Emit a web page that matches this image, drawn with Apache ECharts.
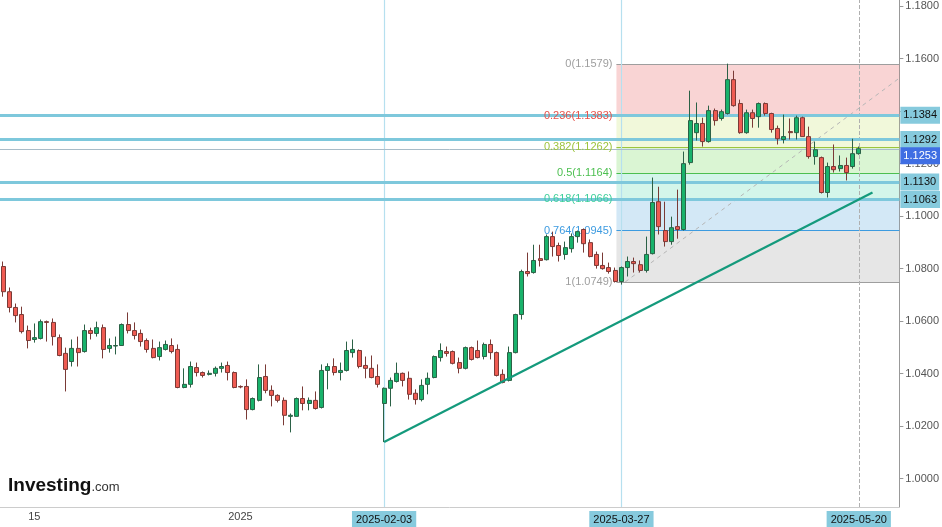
<!DOCTYPE html>
<html><head><meta charset="utf-8">
<script src="https://cdn.jsdelivr.net/npm/echarts@6/dist/echarts.min.js"></script>
<style>html,body{margin:0;padding:0;background:#fff}#c{width:942px;height:527px}</style>
</head><body><div id="c"></div>
<script>
// OHLC: [open, close, low, high]
const ohlc = [
[1.0808,1.0712,1.0693,1.0827],[1.0712,1.0652,1.0633,1.0728],[1.0652,1.0621,1.0595,1.0667],[1.0625,1.0560,1.0553,1.0655],
[1.0564,1.0526,1.0496,1.0583],[1.0530,1.0537,1.0518,1.0591],[1.0534,1.0598,1.0530,1.0606],[1.0598,1.0595,1.0522,1.0602],
[1.0595,1.0541,1.0507,1.0610],[1.0537,1.0469,1.0466,1.0549],[1.0477,1.0416,1.0332,1.0499],[1.0446,1.0496,1.0427,1.0530],
[1.0496,1.0480,1.0427,1.0541],[1.0484,1.0564,1.0480,1.0587],[1.0564,1.0553,1.0530,1.0575],[1.0553,1.0575,1.0541,1.0598],
[1.0575,1.0492,1.0458,1.0587],[1.0496,1.0507,1.0480,1.0534],[1.0505,1.0507,1.0473,1.0541],[1.0507,1.0587,1.0507,1.0591],
[1.0587,1.0564,1.0553,1.0633],[1.0564,1.0545,1.0530,1.0595],[1.0553,1.0522,1.0503,1.0568],[1.0526,1.0492,1.0480,1.0534],
[1.0496,1.0461,1.0458,1.0530],[1.0465,1.0499,1.0450,1.0522],[1.0492,1.0511,1.0488,1.0526],[1.0507,1.0484,1.0477,1.0534],
[1.0492,1.0347,1.0344,1.0511],[1.0347,1.0359,1.0344,1.0420],[1.0359,1.0427,1.0347,1.0446],[1.0423,1.0404,1.0389,1.0442],
[1.0404,1.0393,1.0385,1.0408],[1.0397,1.0401,1.0393,1.0412],[1.0401,1.0420,1.0389,1.0427],[1.0420,1.0427,1.0404,1.0442],
[1.0431,1.0404,1.0374,1.0446],[1.0404,1.0347,1.0344,1.0408],[1.0351,1.0349,1.0344,1.0355],[1.0351,1.0263,1.0225,1.0378],
[1.0263,1.0305,1.0260,1.0309],[1.0298,1.0385,1.0294,1.0435],[1.0389,1.0336,1.0325,1.0435],[1.0336,1.0317,1.0275,1.0355],
[1.0317,1.0298,1.0290,1.0321],[1.0298,1.0241,1.0203,1.0309],[1.0237,1.0241,1.0176,1.0248],[1.0237,1.0305,1.0237,1.0309],
[1.0305,1.0286,1.0260,1.0351],[1.0286,1.0298,1.0260,1.0309],[1.0298,1.0267,1.0263,1.0332],[1.0271,1.0412,1.0267,1.0435],
[1.0412,1.0427,1.0340,1.0439],[1.0427,1.0404,1.0393,1.0458],[1.0404,1.0412,1.0374,1.0442],[1.0412,1.0488,1.0408,1.0522],
[1.0480,1.0492,1.0461,1.0530],[1.0488,1.0427,1.0420,1.0492],[1.0431,1.0420,1.0382,1.0465],[1.0420,1.0385,1.0382,1.0469],
[1.0389,1.0359,1.0347,1.0435],[1.0286,1.0344,1.0139,1.0347],[1.0344,1.0374,1.0275,1.0385],[1.0370,1.0401,1.0366,1.0442],
[1.0401,1.0374,1.0351,1.0404],[1.0382,1.0321,1.0301,1.0408],[1.0325,1.0301,1.0282,1.0340],[1.0301,1.0355,1.0294,1.0378],
[1.0359,1.0382,1.0321,1.0404],[1.0385,1.0465,1.0382,1.0469],[1.0461,1.0488,1.0446,1.0515],[1.0484,1.0477,1.0465,1.0503],
[1.0484,1.0439,1.0435,1.0488],[1.0442,1.0420,1.0401,1.0461],[1.0420,1.0499,1.0416,1.0503],[1.0499,1.0454,1.0450,1.0503],
[1.0488,1.0461,1.0458,1.0526],[1.0465,1.0511,1.0454,1.0518],[1.0511,1.0480,1.0454,1.0530],[1.0480,1.0393,1.0389,1.0484],
[1.0397,1.0366,1.0363,1.0416],[1.0374,1.0480,1.0370,1.0503],[1.0480,1.0625,1.0477,1.0628],[1.0625,1.0789,1.0606,1.0796],
[1.0789,1.0781,1.0770,1.0861],[1.0785,1.0831,1.0781,1.0891],[1.0838,1.0831,1.0808,1.0891],[1.0834,1.0922,1.0831,1.0930],
[1.0922,1.0884,1.0846,1.0941],[1.0888,1.0850,1.0827,1.0899],[1.0854,1.0880,1.0834,1.0903],[1.0876,1.0922,1.0861,1.0934],
[1.0922,1.0941,1.0899,1.0945],[1.0949,1.0895,1.0861,1.0953],[1.0899,1.0846,1.0843,1.0911],[1.0854,1.0812,1.0800,1.0865],
[1.0812,1.0800,1.0796,1.0861],[1.0804,1.0789,1.0781,1.0823],[1.0793,1.0751,1.0747,1.0804],[1.0751,1.0804,1.0739,1.0808],
[1.0804,1.0827,1.0770,1.0846],[1.0827,1.0819,1.0785,1.0842],[1.0815,1.0793,1.0785,1.0831],[1.0793,1.0854,1.0785,1.0922],
[1.0857,1.1052,1.0854,1.1147],[1.1055,1.0960,1.0930,1.1112],[1.0945,1.0903,1.0884,1.1055],[1.0903,1.0956,1.0891,1.0998],
[1.0960,1.0949,1.0914,1.1101],[1.0949,1.1200,1.0945,1.1246],[1.1204,1.1364,1.1196,1.1478],[1.1318,1.1353,1.1288,1.1433],
[1.1353,1.1284,1.1265,1.1375],[1.1284,1.1402,1.1280,1.1421],[1.1402,1.1364,1.1345,1.1410],[1.1372,1.1398,1.1364,1.1406],
[1.1391,1.1520,1.1387,1.1581],[1.1520,1.1421,1.1417,1.1554],[1.1429,1.1318,1.1314,1.1444],[1.1318,1.1394,1.1314,1.1406],
[1.1394,1.1372,1.1337,1.1406],[1.1379,1.1429,1.1337,1.1433],[1.1429,1.1391,1.1383,1.1433],[1.1391,1.1330,1.1318,1.1394],
[1.1334,1.1295,1.1273,1.1345],[1.1292,1.1303,1.1277,1.1387],[1.1322,1.1318,1.1292,1.1372],[1.1318,1.1375,1.1292,1.1383],
[1.1375,1.1303,1.1303,1.1379],[1.1303,1.1227,1.1219,1.1341],[1.1227,1.1253,1.1196,1.1284],[1.1223,1.1090,1.1086,1.1227],
[1.1090,1.1189,1.1071,1.1204],[1.1189,1.1177,1.1166,1.1273],[1.1181,1.1193,1.1170,1.1231],[1.1193,1.1166,1.1136,1.1223],
[1.1189,1.1238,1.1181,1.1295],[1.1238,1.1257,1.1234,1.1265]
];
const startDate = '2024-11-08';
const totalSlots = 144;
const fibLevels = [0, 0.236, 0.382, 0.5, 0.618, 0.764, 1];
const fibPrices = [1.1579, 1.1383, 1.1262, 1.1164, 1.1066, 1.0945, 1.0749];
const fibLineColors = ['#9e9e9e','#e5534b','#9cc43c','#4cbf50','#3fcf9c','#3d9be0','#9e9e9e'];
const fibFillColors = ['rgba(235,120,120,0.32)','rgba(215,235,150,0.35)','rgba(150,225,130,0.35)','rgba(130,225,195,0.35)','rgba(130,190,230,0.35)','rgba(200,200,200,0.45)'];
const fibStartIdx = 98.2;
const levelLines = [1.1384, 1.1292, 1.1130, 1.1063];
const lastPrice = 1.1253;
const yTicks = [1.00,1.02,1.04,1.06,1.08,1.10,1.12,1.14,1.16,1.18];
const yTickLabels = [1.00,1.02,1.04,1.06,1.08,1.10,1.12,1.16,1.18];
const trendLine = [[61, 1.0139], [139.2, 1.1090]];
const fibDiagonal = [[99.6, 1.0749], [143.5, 1.1526]];
const vLinesSolid = [61, 99];
const vLineDashed = 137;
const tickLabels = {'2024-11-15':'15','2025-01-01':'2025','2025-02-03':'2025-02-03','2025-03-27':'2025-03-27','2025-05-20':'2025-05-20'};
const boxedDates = ['2025-02-03','2025-03-27','2025-05-20'];

const dates = [];
(function(){ let d = new Date(startDate+'T00:00:00Z');
  while (dates.length < totalSlots) { const w = d.getUTCDay(); if (w!==0 && w!==6) dates.push(d.toISOString().slice(0,10)); d.setUTCDate(d.getUTCDate()+1); } })();

const chart = echarts.init(document.getElementById('c'));
const FONT = 'Liberation Sans, Arial';
const fibAreas = [];
for (let i=0;i<fibPrices.length-1;i++) fibAreas.push([{coord:[fibStartIdx,fibPrices[i]],itemStyle:{color:fibFillColors[i]}},{coord:[143.5,fibPrices[i+1]]}]);
const fibLines = fibPrices.map((p,i)=>[{coord:[fibStartIdx,p],lineStyle:{color:fibLineColors[i],width:1.2,type:'solid'},
  label:{show:true,position:'start',distance:4,color:fibLineColors[i],fontSize:11,fontFamily:FONT,formatter:fibLevels[i]+'('+p.toFixed(4)+')'}},{coord:[143.5,p]}]);
function levelLine(v, lineColor, width, bg, fg, dy){
  return [{coord:[-0.5,v],lineStyle:{color:lineColor,width:width,type:'solid'},
    label:{show:true,position:'end',distance:1,offset:[0,dy],formatter:v.toFixed(4),backgroundColor:bg,color:fg,padding:[3,3,3,3],fontSize:11,fontFamily:FONT}},
    {coord:[143.5,v]}];
}
const levelMarks = levelLines.map(v=>levelLine(v,'#7ec8dc',3,'#86cadd','#111',0));
levelMarks.push(levelLine(lastPrice,'#a9bcc8',1,'#3f6ee3','#fff',6));
const vMarks = vLinesSolid.map(k=>({xAxis:k,lineStyle:{color:'#b6e0ef',width:1.2,type:'solid'},label:{show:false}}));
vMarks.push({xAxis:vLineDashed,lineStyle:{color:'#b0b0b0',width:1,type:'dashed'},label:{show:false}});

chart.setOption({
  animation:false,
  grid:{left:0,right:39,top:0,bottom:17,containLabel:false},
  xAxis:[{type:'category',data:dates,boundaryGap:true,
    axisLine:{show:true,onZero:false,lineStyle:{color:'#ccc'}},axisTick:{show:false},splitLine:{show:false},
    axisLabel:{interval:(i,v)=>tickLabels[v]!==undefined,margin:4,fontSize:11,fontFamily:FONT,color:'#444',
      formatter:v=>boxedDates.includes(v)?'{b|'+tickLabels[v]+'}':'{n|'+tickLabels[v]+'}',
      rich:{b:{backgroundColor:'#86cadd',color:'#111',padding:[3,4,2,4],fontSize:11},n:{color:'#444',fontSize:11}}}},
    {type:'value',min:-0.5,max:totalSlots-0.5,show:false}],
  yAxis:{type:'value',position:'right',min:1.18235-510/2640,max:1.18235,scale:true,
    axisLine:{show:true,onZero:false,lineStyle:{color:'#999'}},axisTick:{show:true,customValues:yTicks,length:4,lineStyle:{color:'#999'}},splitLine:{show:false},
    axisLabel:{customValues:yTickLabels,formatter:v=>v.toFixed(4),color:'#555',fontSize:11,fontFamily:FONT,margin:6}},
  graphic:[{type:'text',left:8,bottom:32,style:{text:'{a|Investing}{b|.com}',rich:{a:{fontSize:19,fontWeight:'bold',fill:'#111',fontFamily:FONT},b:{fontSize:13,fill:'#333',fontFamily:FONT,padding:[4,0,0,0]}}}}],
  series:[
    {type:'line',xAxisIndex:1,data:fibDiagonal,symbol:'none',lineStyle:{color:'#b5b5b5',width:1,type:[4,4]},z:3,
      markArea:{silent:true,data:fibAreas},
      markLine:{silent:true,symbol:'none',data:fibLines}},
    {type:'candlestick',data:ohlc,barWidth:4.5,z:5,
      itemStyle:{color:'#18b26b',color0:'#ef5b52',borderColor:'#2b6146',borderColor0:'#7a3a36',borderWidth:1},
      markLine:{silent:true,symbol:'none',data:vMarks}},
    {type:'line',xAxisIndex:1,data:trendLine,symbol:'none',lineStyle:{color:'#149a7c',width:2.2},z:6,
      markLine:{silent:true,symbol:'none',data:levelMarks}}
  ]
});
</script></body></html>
